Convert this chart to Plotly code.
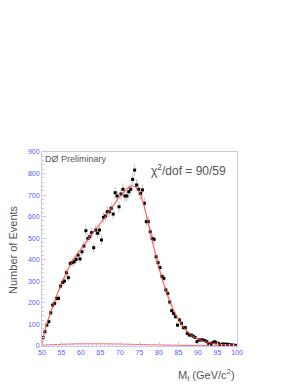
import numpy as np
import plotly.graph_objects as go

# Histogram bin centres (GeV/c^2) and counts
mass = [50.25 + 0.5 * i for i in range(100)]
counts = [
    40, 66, 97, 113, 154, 190, 198, 221, 221, 278,
    295, 301, 340, 317, 383, 387, 391, 402, 422, 404,
    437, 464, 535, 499, 507, 526, 456, 538, 523, 538,
    492, 597, 603, 623, 623, 639, 612, 711, 696, 646,
    705, 727, 696, 696, 716, 727, 773, 816, 747, 727,
    708, 724, 662, 577, 577, 530, 499, 495, 414, 387,
    364, 323, 314, 260, 244, 204, 164, 151, 136, 97,
    121, 105, 85, 85, 59, 51, 51, 46, 40, 20,
    28, 28, 28, 25, 20, 12, 9, 15, 20, 15,
    12, 5, 9, 9, 8, 8, 5, 5, 3, 3,
]
errors = list(np.sqrt(np.array(counts, dtype=float)))

# Fit curve
fit_x = list(range(50, 101))
fit_y = [
    10, 90, 145, 195, 245, 290, 330, 368, 400, 425,
    450, 475, 500, 525, 547, 570, 595, 620, 645, 670,
    695, 715, 733, 742, 738, 712, 662, 590, 510, 432,
    362, 300, 245, 197, 157, 122, 94, 72, 55, 42,
    32, 25, 19, 15, 12, 9, 7, 6, 5, 4, 3,
]

# Background component
bkg_x = [50, 55, 60, 65, 70, 75, 80, 85, 90, 95, 100]
bkg_y = [4, 8, 10, 10, 9, 7, 5, 3, 2, 2, 1]

axis_col = "#c8c8f0"
tick_col = "#5a5aff"
txt_col = "#555555"

fig = go.Figure()
fig.add_trace(go.Scatter(x=bkg_x, y=bkg_y, mode="lines",
                         line=dict(color="#ff6060", width=1, shape="spline"),
                         hoverinfo="skip"))
fig.add_trace(go.Scatter(x=mass, y=counts, mode="markers",
                         marker=dict(color="black", size=3, symbol="square"),
                         error_y=dict(type="data", array=errors, color="#c4c4c4",
                                      thickness=1, width=0)))
fig.add_trace(go.Scatter(x=fit_x, y=fit_y, mode="lines",
                         line=dict(color="#ff4040", width=1.2, shape="spline"),
                         opacity=0.8))

fig.update_layout(
    width=300, height=388,
    margin=dict(l=34, r=71, t=144, b=50, autoexpand=False),
    paper_bgcolor="white", plot_bgcolor="white",
    showlegend=False,
    font=dict(family="Liberation Sans, Arial, sans-serif", color=txt_col),
)
fig.update_xaxes(
    range=[50, 100], tickvals=[50, 55, 60, 65, 70, 75, 80, 85, 90, 95, 100],
    tickfont=dict(size=7, color=tick_col), ticks="inside", ticklen=4,
    tickcolor=axis_col, showgrid=False, zeroline=False, automargin=False,
    showline=True, linecolor=axis_col, linewidth=1, mirror=True,
    minor=dict(dtick=1, ticks="inside", ticklen=2, tickcolor=axis_col),
)
fig.update_yaxes(
    range=[0, 900], dtick=100,
    tickfont=dict(size=7, color=tick_col), ticks="inside", ticklen=4,
    tickcolor=axis_col, showgrid=False, zeroline=False, automargin=False,
    showline=True, linecolor=axis_col, linewidth=1, mirror=True,
    minor=dict(dtick=20, ticks="inside", ticklen=2, tickcolor=axis_col),
)

fig.add_annotation(xref="paper", yref="paper", x=-0.149, y=0.5, xanchor="center", yanchor="middle",
                   text="Number of Events", textangle=-90, showarrow=False,
                   font=dict(size=11, color=txt_col))
fig.add_annotation(xref="paper", yref="paper", x=0.005, y=0.998, xanchor="left", yanchor="top",
                   text="DØ Preliminary", showarrow=False, font=dict(size=9, color=txt_col))
fig.add_annotation(xref="paper", yref="paper", x=0.955, y=0.907, xanchor="right", yanchor="middle",
                   text="χ<sup>2</sup>/dof = 90/59", showarrow=False,
                   font=dict(size=12, color=txt_col))
fig.add_annotation(xref="paper", yref="paper", x=1.0, y=-0.1, xanchor="right", yanchor="top",
                   text="M<sub>t</sub> (GeV/c<sup>2</sup>)", showarrow=False,
                   font=dict(size=11, color=txt_col))

fig.write_html("out.html")
